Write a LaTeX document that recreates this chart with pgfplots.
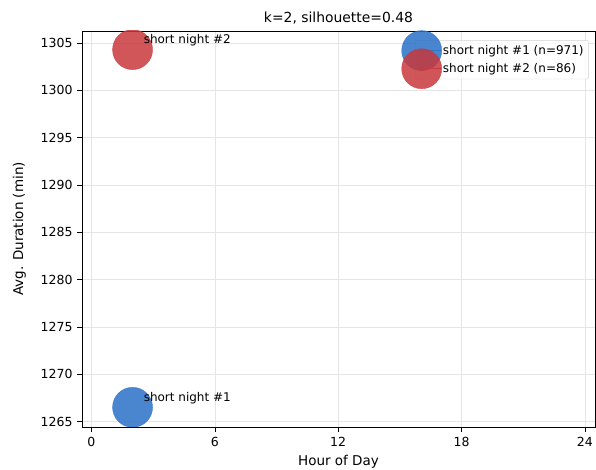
\documentclass[border=0pt]{standalone}
\usepackage{pgfplots}
\pgfplotsset{compat=1.18}
\usepackage{fontspec}
\setmainfont{DejaVu Sans}
\definecolor{cblue}{RGB}{42,113,199}
\definecolor{cred}{RGB}{200,56,61}
\begin{document}
\begin{tikzpicture}
\begin{axis}[
  at={(0,0)}, anchor=south west,
  scale only axis, width=513bp, height=396bp,
  xmin=-0.46, xmax=24.49, ymin=1264.42, ymax=1306.27,
  xtick={0,6,12,18,24}, ytick={1265,1270,...,1305},
  tick align=outside, tick pos=left,
  major tick length=5bp,
  every tick/.style={black, line width=0.6pt},
  grid=major, grid style={gray!20, line width=0.5pt},
  axis line style={line width=0.8pt},
  /pgf/number format/assume math mode=true,
  /pgf/number format/1000 sep={},
  tick label style={font=\fontsize{12.5bp}{15bp}\selectfont},
  xticklabel style={yshift=-2bp},
  yticklabel style={xshift=-1bp},
  xlabel={Hour of Day}, ylabel={Avg. Duration (min)},
  label style={font=\fontsize{13.5bp}{15bp}\selectfont},
  xlabel style={yshift=-1bp},
  ylabel style={yshift=8bp},
  title={k=2, silhouette=0.48},
  title style={font=\fontsize{13.9bp}{16bp}\selectfont, yshift=-3bp},
  clip marker paths=true,
  legend cell align=left,
  legend style={at={(rel axis cs:0.988,0.977)}, anchor=north east,
    draw=gray!35, rounded corners=2bp, fill=white, fill opacity=0.8, text opacity=1,
    font=\fontsize{12bp}{14bp}\selectfont, row sep=3.5bp, inner xsep=3bp, inner ysep=3bp},
  legend image code/.code={\path (-6bp,0) -- (16bp,0);},
]
\addplot[only marks, mark=*, mark size=20bp, draw=cblue, fill=cblue, opacity=0.85,
  legend image code/.code={\path (-6bp,0) -- (16bp,0);\fill[cblue, opacity=0.85, overlay] (-3bp,0) circle (20bp);}]
  coordinates {(2,1266.5)};
\addlegendentry{short night \#1 (n=971)}
\addplot[only marks, mark=*, mark size=20bp, draw=cred, fill=cred, opacity=0.85,
  legend image code/.code={\path (-6bp,0) -- (16bp,0);\fill[cred, opacity=0.85, overlay] (-3bp,0) circle (20bp);}]
  coordinates {(2,1304.3)};
\addlegendentry{short night \#2 (n=86)}
\node[anchor=base west, font=\fontsize{12bp}{14bp}\selectfont, inner sep=0pt, xshift=11bp, yshift=6bp] at (axis cs:2,1266.5) {short night \#1};
\node[anchor=base west, font=\fontsize{12bp}{14bp}\selectfont, inner sep=0pt, xshift=11bp, yshift=6bp] at (axis cs:2,1304.3) {short night \#2};
\end{axis}
\pgfresetboundingbox
\useasboundingbox (-82bp,-43bp) rectangle (514bp,427bp);
\end{tikzpicture}
\end{document}
